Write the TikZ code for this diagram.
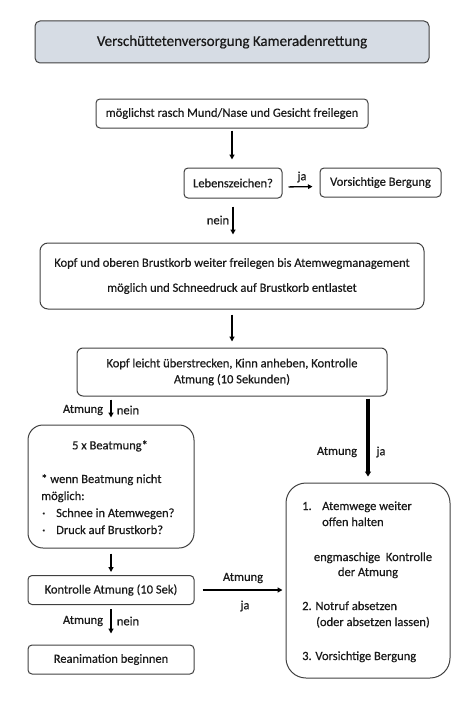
\documentclass[tikz,border=0pt]{standalone}
\usepackage{fontspec}
\setmainfont{Carlito}[FakeBold=0.5]
\usetikzlibrary{arrows.meta,calc}
\definecolor{bord}{HTML}{404040}
\definecolor{titlefill}{HTML}{D6DCE4}
\definecolor{ink}{HTML}{1A1A1A}
\tikzset{
  box/.style={draw=bord, line width=1pt, rounded corners=4pt, inner sep=0pt, align=center, text=ink, font=\fontsize{12.5}{16}\selectfont},
  arr/.style={-{Triangle[length=5pt,width=5pt]}, line width=1.9pt},
  thinarr/.style={-{Triangle[length=4.5pt,width=4.5pt]}, line width=1.3pt},
  thickarr/.style={-{Triangle[length=5pt,width=6pt]}, line width=3.2pt},
  lab/.style={font=\fontsize{12.5}{13}\selectfont, text=ink, inner sep=0pt},
  txt/.style={font=\fontsize{12.5}{13}\selectfont, text=ink, inner sep=0pt, anchor=base west}
}
\begin{document}
\begin{tikzpicture}[x=1pt,y=-1pt]
\useasboundingbox (0,0) rectangle (468,701);
\node[box, fill=titlefill, minimum width=394pt, minimum height=42pt, rounded corners=5pt, font=\fontsize{15}{16}\selectfont] (t) at (232,42) {Verschüttetenversorgung Kameradenrettung};
\node[box, minimum width=272pt, minimum height=29pt] (m) at (232,113.5) {möglichst rasch Mund/Nase und Gesicht freilegen};
\node[box, minimum width=98pt, minimum height=30pt] (leb) at (233,183) {Lebenszeichen?};
\node[box, minimum width=121pt, minimum height=29pt] (vb) at (380.5,182.5) {Vorsichtige Bergung};
\node[box, minimum width=384pt, minimum height=66pt, rounded corners=8pt, font=\fontsize{12.5}{25}\selectfont] (b2) at (232,276) {Kopf und oberen Brustkorb weiter freilegen bis Atemwegmanagement\\möglich und Schneedruck auf Brustkorb entlastet};
\node[box, minimum width=310pt, minimum height=48pt, rounded corners=6pt] (kl) at (232,372) {Kopf leicht überstrecken, Kinn anheben, Kontrolle\\Atmung (10 Sekunden)};
\node[box, minimum width=166pt, minimum height=123pt, rounded corners=15pt] (bea) at (111,486.5) {};
\node[box, minimum width=166pt, minimum height=29pt] (ka) at (111,590) {Kontrolle Atmung (10 Sek)};
\node[box, minimum width=166pt, minimum height=29pt] (rea) at (111,659.5) {Reanimation beginnen};
\node[box, minimum width=164pt, minimum height=195pt, rounded corners=20pt] (big) at (368,580.5) {};

% contents of bea
\node[lab] (bea1) at (110,446) {5 x Beatmung*};
\node[txt] (bea2) at (41,483) {* wenn Beatmung nicht};
\node[txt] (bea3) at (41,500) {möglich:};
\node[txt] (bul1) at (42,517) {·};
\node[txt] (bea4) at (56,517) {Schnee in Atemwegen?};
\node[txt] (bul2) at (42,534) {·};
\node[txt] (bea5) at (56,534) {Druck auf Brustkorb?};

% contents of big
\node[txt] (n1) at (302,510) {1.};
\node[txt] (r1) at (322,510) {Atemwege weiter};
\node[txt] (r2) at (322,526) {offen halten};
\node[lab, anchor=base] (r3) at (373,561) {engmaschige\ \ Kontrolle};
\node[lab, anchor=base] (r4) at (368,576) {der Atmung};
\node[txt] (r5) at (302,610) {2. Notruf absetzen};
\node[txt] (r6) at (316,626) {(oder absetzen lassen)};
\node[txt] (r7) at (302,660) {3. Vorsichtige Bergung};

% connectors
\draw[arr, shorten <=2pt, shorten >=8pt] (m.south) -- (m.south |- leb.north);
\draw[thinarr, shorten <=6pt, shorten >=7pt] ([yshift=-4pt]leb.east) -- ([yshift=-4pt]vb.west);
\draw[arr, shorten <=8pt, shorten >=8pt] (leb.south) -- (leb.south |- b2.north);
\draw[arr, shorten <=5pt, shorten >=6pt] (b2.south) -- (b2.south |- kl.north);
\draw[arr, shorten <=3pt, shorten >=7pt] (kl.south -| bea.north) -- (bea.north);
\draw[thickarr, shorten <=2pt, shorten >=6pt] (kl.south -| big.north) -- (big.north);
\draw[arr, shorten <=5pt, shorten >=3pt] (bea.south) -- (ka.north);
\draw[arr, line width=2.2pt, shorten <=8pt, shorten >=3pt] (ka.east) -- (ka.east -| big.west);
\draw[arr, shorten <=4pt, shorten >=11pt] (ka.south) -- (rea.north);

% labels
\node[lab] (l1) at (302,177) {ja};
\node[lab] (l2) at (218,220) {nein};
\node[lab] (l3) at (83,410) {Atmung};
\node[lab] (l4) at (128,410) {nein};
\node[lab] (l5) at (337,452) {Atmung};
\node[lab] (l6) at (381,452) {ja};
\node[lab] (l7) at (243,578) {Atmung};
\node[lab] (l8) at (245,606) {ja};
\node[lab] (l9) at (83,621) {Atmung};
\node[lab] (l10) at (128,621) {nein};
\end{tikzpicture}
\end{document}
